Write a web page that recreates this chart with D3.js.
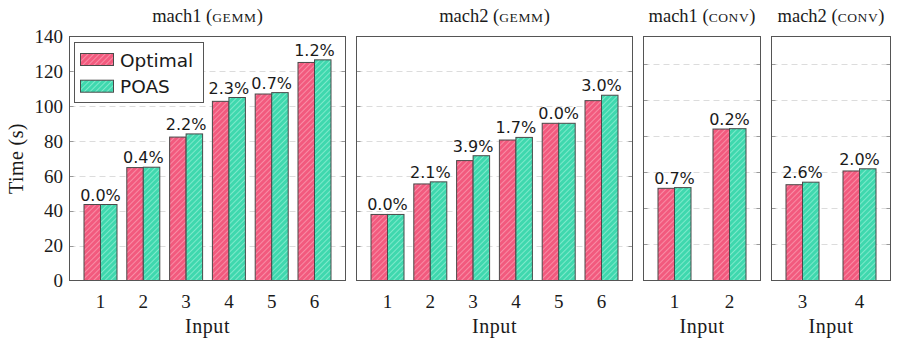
<!DOCTYPE html>
<html>
<head>
<meta charset="utf-8">
<script src="https://cdn.jsdelivr.net/npm/d3@7"></script>
<style>
  body { margin: 0; background: #fff; }
  svg { display: block; }
</style>
</head>
<body>
<div id="chart"></div>
<script>
const width = 899;
const height = 340;

// data
const gemmInputs = ["1", "2", "3", "4", "5", "6"];
const mach1GemmOptimal = [43.6, 64.8, 82.3, 102.8, 107.0, 125.1];
const mach1GemmPoas = [43.6, 65.0, 84.1, 105.0, 107.8, 126.6];
const mach1GemmGap = ["0.0%", "0.4%", "2.2%", "2.3%", "0.7%", "1.2%"];

const mach2GemmOptimal = [37.9, 55.4, 68.8, 80.6, 90.2, 103.2];
const mach2GemmPoas = [37.9, 56.6, 71.6, 82.1, 90.2, 106.3];
const mach2GemmGap = ["0.0%", "2.1%", "3.9%", "1.7%", "0.0%", "3.0%"];

const mach1ConvInputs = ["1", "2"];
const mach1ConvOptimal = [51.0, 83.8];
const mach1ConvPoas = [51.4, 84.0];
const mach1ConvGap = ["0.7%", "0.2%"];

const mach2ConvInputs = ["3", "4"];
const mach2ConvOptimal = [53.0, 60.6];
const mach2ConvPoas = [54.4, 61.8];
const mach2ConvGap = ["2.6%", "2.0%"];

const yTicks = [0, 20, 40, 60, 80, 100, 120, 140];
const seriesNames = ["Optimal", "POAS"];

const panels = [
  { machine: "mach1", kind: "GEMM", inputs: gemmInputs, opt: mach1GemmOptimal, poas: mach1GemmPoas, gap: mach1GemmGap,
    x0: 69.5, x1: 345.5, ymax: 140, labels: true },
  { machine: "mach2", kind: "GEMM", inputs: gemmInputs, opt: mach2GemmOptimal, poas: mach2GemmPoas, gap: mach2GemmGap,
    x0: 356.5, x1: 632.5, ymax: 140, labels: false },
  { machine: "mach1", kind: "CONV", inputs: mach1ConvInputs, opt: mach1ConvOptimal, poas: mach1ConvPoas, gap: mach1ConvGap,
    x0: 643.5, x1: 760.5, ymax: 135, labels: false },
  { machine: "mach2", kind: "CONV", inputs: mach2ConvInputs, opt: mach2ConvOptimal, poas: mach2ConvPoas, gap: mach2ConvGap,
    x0: 771.5, x1: 890.5, ymax: 135, labels: false }
];

const plotTop = 36.5, plotBottom = 280.5;
const barW = 16.5;
const serif = "'Liberation Serif', 'DejaVu Serif', serif";
const sans = "'DejaVu Sans', sans-serif";
const frameColor = "#555";
const textColor = "#1a1a1a";

const colors = {
  Optimal: { base: "#f25a7e", stripe: "#fa9ab1" },
  POAS: { base: "#3fd8ae", stripe: "#8eeed3" }
};

const svg = d3.select("#chart").append("svg")
  .attr("width", width)
  .attr("height", height);

// hatch patterns
const defs = svg.append("defs");
seriesNames.forEach(name => {
  const p = defs.append("pattern")
    .attr("id", "hatch-" + name)
    .attr("patternUnits", "userSpaceOnUse")
    .attr("width", 4)
    .attr("height", 4)
    .attr("patternTransform", "rotate(45)");
  p.append("rect").attr("width", 4).attr("height", 4).attr("fill", colors[name].base);
  p.append("line")
    .attr("x1", 0).attr("y1", 0).attr("x2", 0).attr("y2", 4)
    .attr("stroke", colors[name].stripe)
    .attr("stroke-width", 1.6);
});

panels.forEach(panel => {
  const g = svg.append("g");

  const y = d3.scaleLinear().domain([0, panel.ymax]).range([plotBottom, plotTop]);
  const x = d3.scalePoint().domain(panel.inputs).range([panel.x0 + 31, panel.x1 - 31]);

  // grid lines
  g.append("g")
    .selectAll("line")
    .data(yTicks.filter(t => t > 0 && t < panel.ymax))
    .join("line")
    .attr("x1", panel.x0).attr("x2", panel.x1)
    .attr("y1", d => Math.round(y(d)) + 0.5)
    .attr("y2", d => Math.round(y(d)) + 0.5)
    .attr("stroke", "#dcdcdc")
    .attr("stroke-dasharray", "6,4");

  // small inner ticks on both sides
  const tk = g.append("g");
  yTicks.filter(t => t > 0 && t < panel.ymax).forEach(t => {
    const yy = Math.round(y(t)) + 0.5;
    tk.append("line").attr("x1", panel.x0).attr("x2", panel.x0 + 4).attr("y1", yy).attr("y2", yy)
      .attr("stroke", "#999");
    tk.append("line").attr("x1", panel.x1 - 4).attr("x2", panel.x1).attr("y1", yy).attr("y2", yy)
      .attr("stroke", "#999");
  });

  // bars
  const rows = panel.inputs.map((inp, i) => ({
    input: inp, opt: panel.opt[i], poas: panel.poas[i], gap: panel.gap[i]
  }));

  const bars = g.append("g");
  rows.forEach(d => {
    bars.append("rect")
      .attr("x", x(d.input) - barW)
      .attr("y", y(d.opt))
      .attr("width", barW)
      .attr("height", plotBottom - y(d.opt))
      .attr("fill", "url(#hatch-Optimal)")
      .attr("stroke", "#4a4a4a")
      .attr("stroke-width", 1);
    bars.append("rect")
      .attr("x", x(d.input))
      .attr("y", y(d.poas))
      .attr("width", barW)
      .attr("height", plotBottom - y(d.poas))
      .attr("fill", "url(#hatch-POAS)")
      .attr("stroke", "#4a4a4a")
      .attr("stroke-width", 1);
  });

  // gap labels
  g.append("g")
    .selectAll("text")
    .data(rows)
    .join("text")
    .attr("x", d => x(d.input))
    .attr("y", d => y(Math.max(d.opt, d.poas)) - 4)
    .attr("text-anchor", "middle")
    .attr("font-family", sans)
    .attr("font-size", 16)
    .attr("fill", textColor)
    .text(d => d.gap);

  // frame
  g.append("rect")
    .attr("x", panel.x0).attr("y", plotTop)
    .attr("width", panel.x1 - panel.x0).attr("height", plotBottom - plotTop)
    .attr("fill", "none")
    .attr("stroke", frameColor)
    .attr("stroke-width", 1);

  // x tick labels
  g.append("g")
    .selectAll("text")
    .data(panel.inputs)
    .join("text")
    .attr("x", d => x(d))
    .attr("y", 308)
    .attr("text-anchor", "middle")
    .attr("font-family", serif)
    .attr("font-size", 19)
    .attr("fill", textColor)
    .text(d => d);

  // x axis title
  g.append("text")
    .attr("x", (panel.x0 + panel.x1) / 2)
    .attr("y", 333)
    .attr("text-anchor", "middle")
    .attr("font-family", serif)
    .attr("font-size", 20)
    .attr("letter-spacing", 0.6)
    .attr("fill", textColor)
    .text("Input");

  // panel title
  const title = g.append("text")
    .attr("x", (panel.x0 + panel.x1) / 2)
    .attr("y", 22)
    .attr("text-anchor", "middle")
    .attr("font-family", serif)
    .attr("font-size", 18.5)
    .attr("fill", textColor);
  title.append("tspan").text(panel.machine + " (");
  title.append("tspan").attr("font-size", 13.5).attr("letter-spacing", 0.6).text(panel.kind);
  title.append("tspan").text(")");

  // y axis labels only on first panel
  if (panel.labels) {
    g.append("g")
      .selectAll("text")
      .data(yTicks)
      .join("text")
      .attr("x", 63)
      .attr("y", d => y(d))
      .attr("dy", "0.35em")
      .attr("text-anchor", "end")
      .attr("font-family", serif)
      .attr("font-size", 19)
      .attr("fill", textColor)
      .text(d => d);

    g.append("text")
      .attr("transform", "translate(23," + ((plotTop + plotBottom) / 2) + ") rotate(-90)")
      .attr("text-anchor", "middle")
      .attr("font-family", serif)
      .attr("font-size", 20)
      .attr("letter-spacing", 0.4)
      .attr("fill", textColor)
      .text("Time (s)");

    // legend
    const lg = g.append("g");
    lg.append("rect")
      .attr("x", 74.5).attr("y", 42.5)
      .attr("width", 129).attr("height", 60)
      .attr("fill", "#fff")
      .attr("stroke", frameColor);
    seriesNames.forEach((name, i) => {
      lg.append("rect")
        .attr("x", 80.5).attr("y", 53.5 + i * 26.7)
        .attr("width", 33).attr("height", 12)
        .attr("fill", "url(#hatch-" + name + ")")
        .attr("stroke", "#4a4a4a");
      lg.append("text")
        .attr("x", 120)
        .attr("y", 66.5 + i * 26.7)
        .attr("font-family", sans)
        .attr("font-size", 18.5)
        .attr("fill", textColor)
        .text(name);
    });
  }
});
</script>
</body>
</html>
